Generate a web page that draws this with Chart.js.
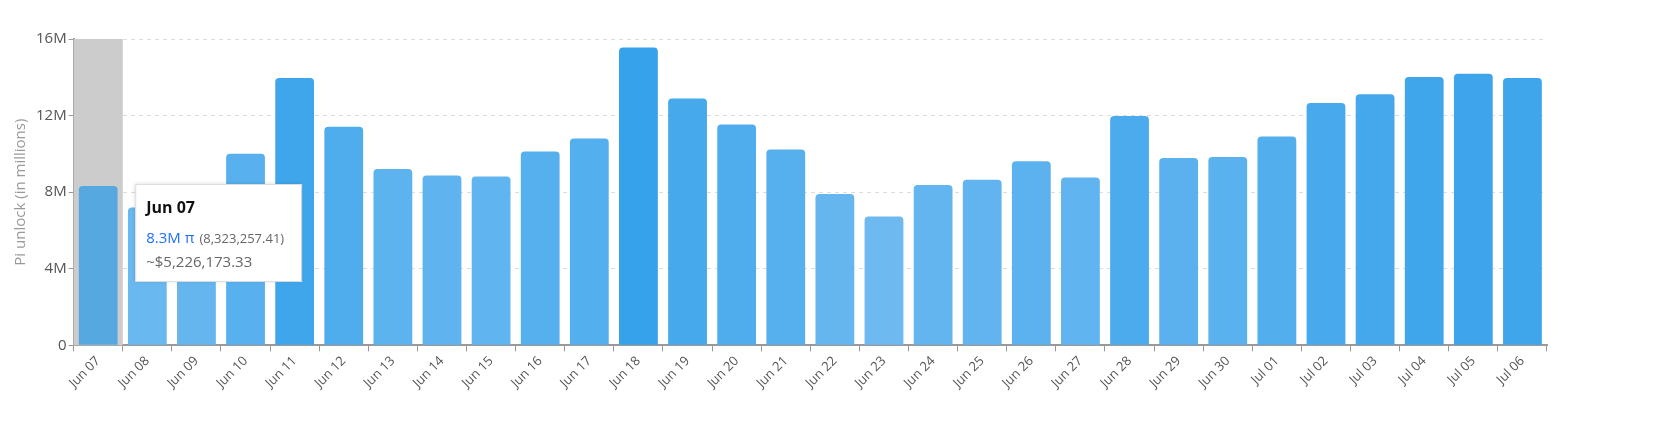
<!DOCTYPE html>
<html>
<head>
<meta charset="utf-8">
<script src="https://cdn.jsdelivr.net/npm/chart.js@4"></script>
<style>
  html, body { margin: 0; padding: 0; background: #fff; overflow: hidden; }
  #wrap { width: 1655px; height: 431px; position: relative; }
</style>
</head>
<body>
<div id="wrap"><canvas id="c"></canvas></div>
<script>
const labels = ['Jun 07','Jun 08','Jun 09','Jun 10','Jun 11','Jun 12','Jun 13','Jun 14','Jun 15','Jun 16',
  'Jun 17','Jun 18','Jun 19','Jun 20','Jun 21','Jun 22','Jun 23','Jun 24','Jun 25','Jun 26',
  'Jun 27','Jun 28','Jun 29','Jun 30','Jul 01','Jul 02','Jul 03','Jul 04','Jul 05','Jul 06'];
const unlock = [8.32, 7.2, 7.9, 10.0, 13.96, 11.42, 9.21, 8.87, 8.82, 10.12,
  10.8, 15.55, 12.89, 11.53, 10.23, 7.91, 6.73, 8.37, 8.65, 9.61,
  8.76, 11.98, 9.78, 9.84, 10.91, 12.66, 13.11, 14.02, 14.19, 13.96];
const yTicks = [0, 4, 8, 12, 16];
const activeIndex = 0;
const tipTitle = 'Jun 07';
const tipMain = '8.3M π';
const tipExact = '(8,323,257.41)';
const tipUsd = '~$5,226,173.33';

// lighter blue for small values, stronger for big ones
function barColor(v) {
  const t = Math.max(0, Math.min(1, (v - 6.5) / 9));
  const a = [110, 186, 240], b = [54, 162, 235];
  const c = a.map((x, i) => Math.round(x + (b[i] - x) * t));
  return `rgb(${c[0]},${c[1]},${c[2]})`;
}

const highlight = {
  id: 'highlight',
  beforeDatasetsDraw(chart) {
    const { ctx, chartArea, scales } = chart;
    const slot = scales.x.width / labels.length;
    const cx = scales.x.getPixelForValue(activeIndex);
    ctx.save();
    ctx.fillStyle = '#cccccc';
    ctx.fillRect(cx - slot / 2, chartArea.top, slot, chartArea.bottom - chartArea.top);
    ctx.restore();
  },
  afterDraw(chart) {
    const { ctx } = chart;
    const bar = chart.getDatasetMeta(0).data[activeIndex];
    const x = bar.x + 37, y = bar.y - 2, w = 166, h = 97;
    ctx.save();
    ctx.shadowColor = 'rgba(0,0,0,0.15)';
    ctx.shadowBlur = 4;
    ctx.fillStyle = '#fff';
    ctx.fillRect(x, y, w, h);
    ctx.shadowColor = 'transparent';
    ctx.strokeStyle = '#dddddd';
    ctx.lineWidth = 1;
    ctx.strokeRect(x + 0.5, y + 0.5, w, h);
    ctx.textBaseline = 'alphabetic';
    ctx.fillStyle = '#111';
    ctx.font = 'bold 16px "Open Sans"';
    ctx.fillText(tipTitle, x + 11, y + 29);
    ctx.fillStyle = '#1f6fff';
    ctx.font = '15px "Open Sans"';
    ctx.fillText(tipMain, x + 11, y + 59);
    const mw = ctx.measureText(tipMain).width;
    ctx.fillStyle = '#666';
    ctx.font = '13px "Open Sans"';
    ctx.fillText(tipExact, x + 16 + mw, y + 59);
    ctx.font = '15px "Open Sans"';
    ctx.fillText(tipUsd, x + 11, y + 83);
    ctx.restore();
  }
};

new Chart(document.getElementById('c'), {
  type: 'bar',
  data: {
    labels,
    datasets: [{
      data: unlock,
      backgroundColor: (c) => c.dataIndex === activeIndex ? '#55a9e0' : barColor(unlock[c.dataIndex]),
      borderRadius: { topLeft: 4, topRight: 4 },
      borderSkipped: 'bottom',
      barPercentage: 0.79,
      categoryPercentage: 1
    }]
  },
  options: {
    responsive: true,
    maintainAspectRatio: false,
    animation: false,
    layout: { padding: { top: 39, right: 108, left: 8, bottom: 38 } },
    plugins: { legend: { display: false }, tooltip: { enabled: false } },
    scales: {
      x: {
        grid: { display: true, drawOnChartArea: false, tickColor: '#999', tickLength: 6 },
        border: { color: '#999', width: 2 },
        ticks: { color: '#555', font: { family: 'Open Sans', size: 13 }, minRotation: 45, maxRotation: 45, padding: 2 }
      },
      y: {
        min: 0, max: 16,
        afterBuildTicks: (s) => { s.ticks = yTicks.map(v => ({ value: v })); },
        grid: { color: '#dddddd', tickColor: '#999', tickLength: 5, drawTicks: true },
        border: { color: '#999', width: 2, dash: [4, 4] },
        ticks: { color: '#555', font: { family: 'Open Sans', size: 15 }, padding: 2,
          callback: (v) => v === 0 ? '0' : v + 'M' },
        title: { display: true, text: 'Pi unlock (in millions)', color: '#999', font: { family: 'Open Sans', size: 15 } }
      }
    }
  },
  plugins: [highlight]
});
</script>
</body>
</html>
